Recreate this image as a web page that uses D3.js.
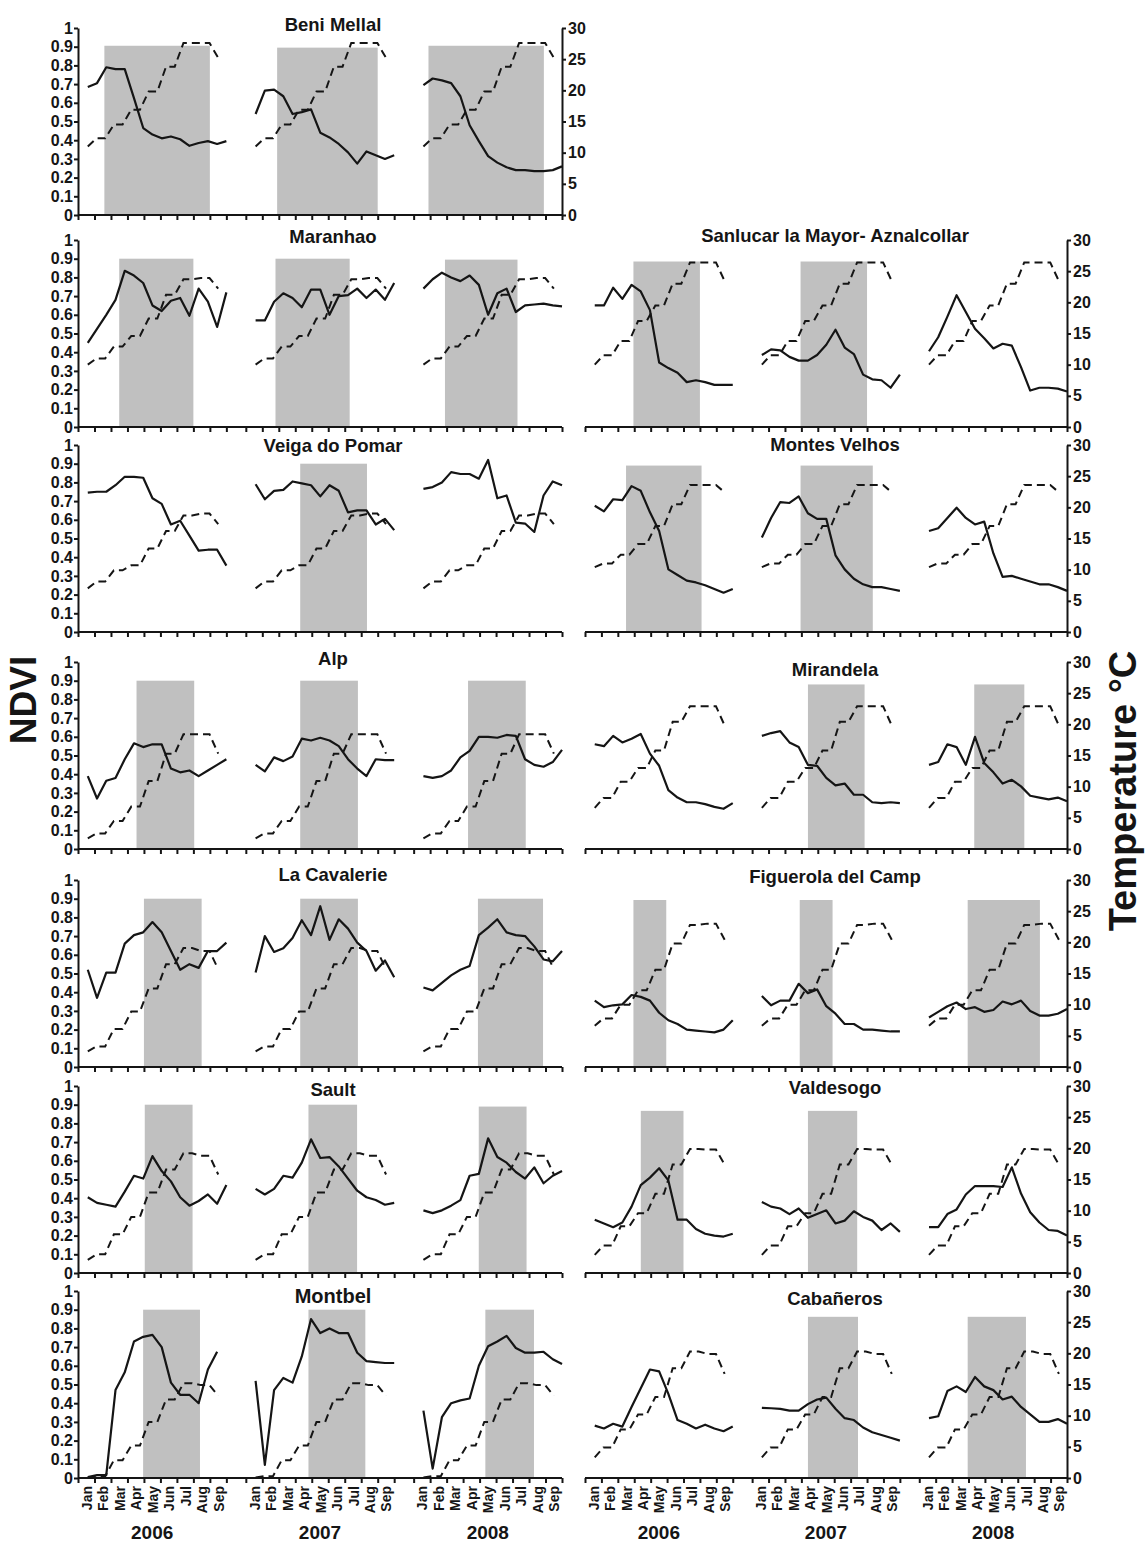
<!DOCTYPE html>
<html>
<head>
<meta charset="utf-8">
<script src="https://cdn.jsdelivr.net/npm/d3@7"></script>
<style>
  html, body { margin: 0; padding: 0; background: #ffffff; }
  svg { display: block; }
  text { font-family: "Liberation Sans", Arial, Helvetica, sans-serif; font-weight: bold; fill: #151515; }
</style>
</head>
<body>
<svg id="chart" width="1146" height="1542"></svg>
<script>
// ---------- axis categories and tick labels ----------
const years = ["2006", "2007", "2008"];
const monthNames = ["Jan", "Feb", "Mar", "Apr", "May", "Jun", "Jul", "Aug", "Sep"];
const ndviTicks = [0, 0.1, 0.2, 0.3, 0.4, 0.5, 0.6, 0.7, 0.8, 0.9, 1];
const ndviTickLabels = ["0", "0.1", "0.2", "0.3", "0.4", "0.5", "0.6", "0.7", "0.8", "0.9", "1"];
const tempTicks = [0, 5, 10, 15, 20, 25, 30];

// day of year of each NDVI composite and of each temperature value (Jan–Sep)
const ndviDays = [18, 35, 52, 69, 86, 103, 120, 137, 154, 171, 188, 205, 222, 239, 256, 273];
const tempDays = [18, 34, 50, 66, 82, 98, 114, 130, 146, 162, 178, 194, 210, 226, 242, 258];
const daysPerMonth = 30.33;

// ---------- site names ----------
const siteNames = [
  "Beni Mellal", "Maranhao", "Veiga do Pomar", "Alp", "La Cavalerie", "Sault", "Montbel",
  "Sanlucar la Mayor- Aznalcollar", "Montes Velhos", "Mirandela", "Figuerola del Camp", "Valdesogo", "Cabañeros"
];

// ---------- mean temperature (°C), same seasonal course each year ----------
const tempBeniMellal = [11, 12.3, 12.3, 14.5, 14.5, 16.9, 16.9, 19.8, 19.8, 23.8, 23.8, 27.6, 27.6, 27.6, 27.6, 25.2];
const tempMaranhao   = [10, 11, 11, 12.9, 12.9, 14.6, 14.6, 17.4, 17.4, 21.2, 21.2, 23.7, 23.7, 23.9, 23.9, 22.2];
const tempVeiga      = [7, 8.1, 8.1, 9.9, 9.9, 10.7, 10.7, 13.4, 13.4, 16.2, 16.2, 18.7, 18.7, 19, 19, 17.3];
const tempAlp        = [1.7, 2.5, 2.5, 4.5, 4.5, 6.8, 6.8, 10.9, 10.9, 15.3, 15.3, 18.4, 18.4, 18.4, 18.4, 15.3];
const tempCavalerie  = [2.5, 3.3, 3.3, 6.1, 6.1, 8.9, 8.9, 12.6, 12.6, 16.5, 16.5, 19.1, 19.1, 18.6, 18.6, 15.7];
const tempSault      = [2.1, 3, 3, 6.2, 6.2, 9, 9, 12.9, 12.9, 16.6, 16.6, 19.2, 19.2, 18.8, 18.8, 15.8];
const tempMontbel    = [0.1, 0.3, 0.3, 2.85, 2.85, 5.2, 5.2, 9, 9, 12.6, 12.6, 15.2, 15.2, 14.9, 14.9, 13.2];
const tempSanlucar   = [10, 11.5, 11.5, 13.8, 13.8, 17, 17, 19.5, 19.5, 23, 23, 26.4, 26.4, 26.4, 26.4, 23.4];
const tempMontes     = [10.4, 11, 11, 12.4, 12.4, 14.1, 14.1, 17, 17, 20.5, 20.5, 23.6, 23.6, 23.6, 23.6, 22.4];
const tempMirandela  = [6.6, 8.2, 8.2, 10.8, 10.8, 13, 13, 15.8, 15.8, 20.4, 20.4, 22.9, 22.9, 22.9, 22.9, 19.8];
const tempFiguerola  = [6.6, 7.8, 7.8, 10, 10, 12.3, 12.3, 15.6, 15.6, 19.8, 19.8, 22.8, 22.8, 23, 23, 20.4];
const tempValdesogo  = [2.9, 4.4, 4.4, 7.5, 7.5, 9.6, 9.6, 12.7, 12.7, 17.4, 17.4, 19.9, 19.9, 19.8, 19.8, 17.4];
const tempCabaneros  = [3.3, 4.9, 4.9, 7.8, 7.8, 10.2, 10.2, 13, 13, 17.6, 17.6, 20.3, 20.3, 19.9, 19.9, 16.7];

// ---------- NDVI, one series per year (2006, 2007, 2008) ----------
const ndviBeniMellal = [
  [0.685, 0.705, 0.79, 0.78, 0.78, 0.625, 0.465, 0.43, 0.41, 0.42, 0.405, 0.37, 0.385, 0.395, 0.38, 0.395],
  [0.54, 0.665, 0.67, 0.635, 0.54, 0.55, 0.565, 0.44, 0.415, 0.38, 0.335, 0.275, 0.34, 0.32, 0.3, 0.32],
  [0.695, 0.73, 0.72, 0.705, 0.635, 0.48, 0.395, 0.315, 0.28, 0.255, 0.24, 0.24, 0.235, 0.235, 0.24, 0.26]
];
const ndviMaranhao = [
  [0.45, 0.525, 0.6, 0.68, 0.835, 0.81, 0.77, 0.65, 0.62, 0.675, 0.69, 0.595, 0.74, 0.67, 0.535, 0.72],
  [0.57, 0.57, 0.67, 0.715, 0.69, 0.64, 0.735, 0.735, 0.6, 0.7, 0.705, 0.74, 0.69, 0.735, 0.68, 0.77],
  [0.74, 0.79, 0.825, 0.8, 0.78, 0.81, 0.76, 0.6, 0.715, 0.74, 0.615, 0.65, 0.655, 0.66, 0.65, 0.645]
];
const ndviVeiga = [
  [0.745, 0.75, 0.75, 0.785, 0.83, 0.83, 0.825, 0.715, 0.685, 0.575, 0.595, 0.515, 0.435, 0.44, 0.44, 0.355],
  [0.79, 0.71, 0.755, 0.76, 0.805, 0.795, 0.785, 0.725, 0.785, 0.755, 0.64, 0.65, 0.65, 0.575, 0.605, 0.545],
  [0.765, 0.775, 0.8, 0.855, 0.845, 0.845, 0.82, 0.92, 0.715, 0.73, 0.585, 0.58, 0.535, 0.73, 0.805, 0.785]
];
const ndviAlp = [
  [0.39, 0.27, 0.365, 0.38, 0.48, 0.565, 0.545, 0.56, 0.56, 0.43, 0.41, 0.42, 0.39, 0.42, 0.45, 0.48],
  [0.45, 0.415, 0.49, 0.47, 0.495, 0.59, 0.58, 0.595, 0.58, 0.55, 0.48, 0.43, 0.39, 0.48, 0.475, 0.475],
  [0.39, 0.38, 0.39, 0.42, 0.49, 0.525, 0.6, 0.6, 0.595, 0.61, 0.605, 0.48, 0.45, 0.44, 0.465, 0.53]
];
const ndviCavalerie = [
  [0.52, 0.37, 0.505, 0.505, 0.66, 0.705, 0.72, 0.775, 0.72, 0.62, 0.52, 0.55, 0.53, 0.62, 0.62, 0.665],
  [0.505, 0.7, 0.615, 0.635, 0.69, 0.785, 0.705, 0.86, 0.68, 0.79, 0.74, 0.665, 0.62, 0.515, 0.57, 0.48],
  [0.425, 0.41, 0.45, 0.49, 0.52, 0.54, 0.705, 0.745, 0.79, 0.72, 0.705, 0.7, 0.645, 0.575, 0.565, 0.62]
];
const ndviSault = [
  [0.405, 0.375, 0.365, 0.355, 0.435, 0.52, 0.505, 0.625, 0.545, 0.49, 0.405, 0.36, 0.385, 0.42, 0.37, 0.47],
  [0.45, 0.42, 0.45, 0.52, 0.51, 0.59, 0.715, 0.615, 0.62, 0.57, 0.505, 0.44, 0.405, 0.39, 0.365, 0.375],
  [0.335, 0.32, 0.335, 0.36, 0.39, 0.52, 0.53, 0.72, 0.62, 0.59, 0.54, 0.505, 0.565, 0.48, 0.52, 0.545]
];
const ndviMontbel = [
  [0.005, 0.015, 0.015, 0.47, 0.565, 0.73, 0.755, 0.765, 0.7, 0.51, 0.445, 0.445, 0.4, 0.58, 0.675],
  [0.52, 0.07, 0.47, 0.535, 0.51, 0.65, 0.85, 0.775, 0.8, 0.775, 0.775, 0.67, 0.625, 0.62, 0.615, 0.615],
  [0.36, 0.05, 0.325, 0.4, 0.415, 0.425, 0.6, 0.705, 0.73, 0.76, 0.695, 0.67, 0.67, 0.675, 0.635, 0.61]
];
const ndviSanlucar = [
  [0.65, 0.65, 0.745, 0.685, 0.76, 0.725, 0.625, 0.345, 0.315, 0.29, 0.24, 0.25, 0.24, 0.225, 0.225, 0.225],
  [0.385, 0.415, 0.41, 0.375, 0.355, 0.355, 0.385, 0.44, 0.52, 0.425, 0.39, 0.28, 0.255, 0.25, 0.21, 0.28],
  [0.405, 0.48, 0.59, 0.705, 0.615, 0.525, 0.475, 0.42, 0.445, 0.435, 0.32, 0.195, 0.21, 0.21, 0.205, 0.19]
];
const ndviMontes = [
  [0.675, 0.645, 0.71, 0.705, 0.78, 0.755, 0.64, 0.54, 0.335, 0.305, 0.275, 0.265, 0.25, 0.23, 0.21, 0.23],
  [0.505, 0.61, 0.695, 0.69, 0.725, 0.635, 0.605, 0.605, 0.41, 0.335, 0.285, 0.255, 0.24, 0.24, 0.23, 0.22],
  [0.54, 0.555, 0.61, 0.665, 0.61, 0.575, 0.59, 0.42, 0.295, 0.3, 0.285, 0.27, 0.255, 0.255, 0.24, 0.22]
];
const ndviMirandela = [
  [0.56, 0.55, 0.605, 0.57, 0.59, 0.615, 0.51, 0.445, 0.315, 0.275, 0.25, 0.25, 0.24, 0.225, 0.215, 0.245],
  [0.605, 0.62, 0.63, 0.57, 0.545, 0.45, 0.445, 0.38, 0.34, 0.35, 0.29, 0.29, 0.25, 0.245, 0.25, 0.245],
  [0.45, 0.465, 0.56, 0.545, 0.45, 0.6, 0.46, 0.41, 0.35, 0.37, 0.335, 0.285, 0.275, 0.265, 0.275, 0.255]
];
const ndviFiguerola = [
  [0.355, 0.32, 0.33, 0.335, 0.385, 0.375, 0.355, 0.29, 0.25, 0.23, 0.2, 0.195, 0.19, 0.185, 0.2, 0.25],
  [0.38, 0.33, 0.355, 0.355, 0.445, 0.395, 0.415, 0.325, 0.285, 0.23, 0.23, 0.2, 0.2, 0.195, 0.19, 0.19],
  [0.265, 0.295, 0.325, 0.345, 0.31, 0.32, 0.295, 0.305, 0.35, 0.335, 0.355, 0.3, 0.275, 0.275, 0.285, 0.31]
];
const ndviValdesogo = [
  [0.285, 0.265, 0.245, 0.27, 0.355, 0.47, 0.51, 0.56, 0.495, 0.285, 0.285, 0.235, 0.21, 0.2, 0.195, 0.21],
  [0.38, 0.355, 0.345, 0.315, 0.345, 0.295, 0.315, 0.335, 0.265, 0.28, 0.33, 0.3, 0.28, 0.23, 0.265, 0.22],
  [0.245, 0.245, 0.315, 0.34, 0.42, 0.465, 0.465, 0.465, 0.46, 0.565, 0.425, 0.325, 0.27, 0.23, 0.225, 0.2]
];
const ndviCabaneros = [
  [0.28, 0.265, 0.29, 0.275, 0.38, 0.48, 0.58, 0.57, 0.45, 0.31, 0.29, 0.265, 0.285, 0.265, 0.25, 0.275],
  [0.375, 0.373, 0.37, 0.36, 0.36, 0.395, 0.42, 0.43, 0.37, 0.32, 0.31, 0.27, 0.245, 0.23, 0.215, 0.2],
  [0.32, 0.33, 0.465, 0.49, 0.46, 0.54, 0.49, 0.47, 0.42, 0.435, 0.38, 0.34, 0.3, 0.3, 0.315, 0.29]
];

// ---------- growing season per year: [start month, end month, bar height in NDVI] ----------
const seasonBeniMellal = [[1.6, 8.0, 0.905], [1.9, 8.0, 0.895], [0.9, 7.9, 0.905]];
const seasonMaranhao   = [[2.5, 7.0, 0.9], [1.8, 6.3, 0.9], [1.9, 6.3, 0.895]];
const seasonVeiga      = [null, [3.3, 7.35, 0.9], null];
const seasonAlp        = [[3.55, 7.05, 0.9], [3.3, 6.8, 0.9], [3.3, 6.8, 0.9]];
const seasonCavalerie  = [[4.0, 7.5, 0.9], [3.3, 6.8, 0.9], [3.9, 7.85, 0.9]];
const seasonSault      = [[4.05, 6.95, 0.9], [3.8, 6.75, 0.9], [3.95, 6.85, 0.89]];
const seasonMontbel    = [[3.95, 7.4, 0.9], [3.8, 7.25, 0.9], [4.35, 7.3, 0.9]];
const seasonSanlucar   = [[2.95, 7.0, 0.885], [2.95, 7.0, 0.885], null];
const seasonMontes     = [[2.5, 7.1, 0.89], [2.95, 7.35, 0.89], null];
const seasonMirandela  = [null, [3.4, 6.85, 0.88], [3.35, 6.4, 0.88]];
const seasonFiguerola  = [[2.95, 4.95, 0.893], [2.9, 4.9, 0.893], [2.95, 7.35, 0.893]];
const seasonValdesogo  = [[3.4, 6.0, 0.867], [3.4, 6.4, 0.867], null];
const seasonCabaneros  = [null, [3.4, 6.45, 0.862], [2.95, 6.5, 0.862]];

// ---------- panel table ----------
const siteTemps = [tempBeniMellal, tempMaranhao, tempVeiga, tempAlp, tempCavalerie, tempSault, tempMontbel,
                   tempSanlucar, tempMontes, tempMirandela, tempFiguerola, tempValdesogo, tempCabaneros];
const siteNdvi = [ndviBeniMellal, ndviMaranhao, ndviVeiga, ndviAlp, ndviCavalerie, ndviSault, ndviMontbel,
                  ndviSanlucar, ndviMontes, ndviMirandela, ndviFiguerola, ndviValdesogo, ndviCabaneros];
const siteSeasons = [seasonBeniMellal, seasonMaranhao, seasonVeiga, seasonAlp, seasonCavalerie, seasonSault, seasonMontbel,
                     seasonSanlucar, seasonMontes, seasonMirandela, seasonFiguerola, seasonValdesogo, seasonCabaneros];

// ---------- layout: grid cell [column, row] and title baseline offset of each site ----------
const siteCells = [[0,0],[0,1],[0,2],[0,3],[0,4],[0,5],[0,6],[1,1],[1,2],[1,3],[1,4],[1,5],[1,6]];
const titleOffsets = [3, 3, 7, 3, 1, 10, 12, 2, 6, 14, 3, 8, 14];

const panels = siteNames.map((name, i) => ({
  name, temp: siteTemps[i], ndvi: siteNdvi[i], season: siteSeasons[i],
  col: siteCells[i][0], row: siteCells[i][1], titleDy: titleOffsets[i]
}));

const svg = d3.select("#chart");
const colRanges = [[78, 562], [585, 1067]];
const rowTops = [28, 240, 445, 662, 880, 1086, 1291];
const rowH = 187;
const lastRow = 6;
const ink = "#151515";
const shade = "#c0c0c0";

function styleAxis(g, size) {
  g.attr("font-size", size).attr("font-family", null);
  g.selectAll("line, path").attr("stroke", ink).attr("stroke-width", 2);
  g.selectAll("text").attr("fill", ink);
}

panels.forEach(p => {
  const top = rowTops[p.row];
  const bottom = top + rowH;
  const [x0, x1] = colRanges[p.col];
  const yN = d3.scaleLinear().domain([0, 1]).range([bottom, top]);
  const yT = d3.scaleLinear().domain([0, 30]).range([bottom, top]);
  const band = d3.scaleBand().domain(years).range([x0, x1]).paddingInner(0.116).paddingOuter(0);
  const g = svg.append("g").attr("class", "panel");
  const marks = g.append("g");
  const axes = g.append("g");

  years.forEach((yr, k) => {
    const xm = d3.scaleLinear().domain([0, 9]).range([band(yr), band(yr) + band.bandwidth()]);

    // growing-season bar
    const s = p.season[k];
    if (s) {
      marks.append("rect")
        .attr("x", xm(s[0])).attr("width", xm(s[1]) - xm(s[0]))
        .attr("y", yN(s[2])).attr("height", yN(0) - yN(s[2]))
        .attr("fill", shade);
    }

    // temperature (dashed, right scale)
    const tempLine = d3.line()
      .x((d, i) => xm(tempDays[i] / daysPerMonth))
      .y(d => yT(d));
    marks.append("path").attr("d", tempLine(p.temp))
      .attr("fill", "none").attr("stroke", ink).attr("stroke-width", 2)
      .attr("stroke-dasharray", "8,5");

    // NDVI (solid, left scale)
    const ndviLine = d3.line()
      .x((d, i) => xm(ndviDays[i] / daysPerMonth))
      .y(d => yN(d));
    marks.append("path").attr("d", ndviLine(p.ndvi[k]))
      .attr("fill", "none").attr("stroke", ink).attr("stroke-width", 2.2)
      .attr("stroke-linejoin", "round");

    // month boundary ticks
    const tickAxis = axes.append("g").attr("transform", `translate(0,${bottom})`)
      .call(d3.axisBottom(xm).tickValues(d3.range(10)).tickSize(5).tickFormat(""));
    tickAxis.select(".domain").remove();
    styleAxis(tickAxis, 13);

    if (p.row === lastRow) {
      const lab = axes.append("g").attr("transform", `translate(0,${bottom})`)
        .call(d3.axisBottom(xm).tickValues(monthNames.map((m, i) => i + 0.5))
          .tickSize(0).tickFormat((d, i) => monthNames[i]));
      lab.select(".domain").remove();
      styleAxis(lab, 14);
      lab.selectAll("text")
        .attr("transform", "rotate(-90)")
        .attr("x", -8).attr("y", 0).attr("dy", "0.36em")
        .attr("text-anchor", "end");
      axes.append("text")
        .attr("x", band(yr) + band.bandwidth() / 2).attr("y", 1539)
        .attr("text-anchor", "middle").attr("font-size", 19)
        .text(yr);
    }
  });

  // continuous baseline of the row
  axes.append("line").attr("x1", x0).attr("x2", x1).attr("y1", bottom).attr("y2", bottom)
    .attr("stroke", ink).attr("stroke-width", 2);

  if (p.col === 0) {
    const ax = axes.append("g").attr("transform", `translate(${x0},0)`)
      .call(d3.axisLeft(yN).tickValues(ndviTicks).tickSize(4).tickSizeOuter(0).tickPadding(1)
        .tickFormat((d, i) => ndviTickLabels[i]));
    styleAxis(ax, 16);
  }
  if (p.col === 1 || p.row === 0) {
    const ax = axes.append("g").attr("transform", `translate(${x1},0)`)
      .call(d3.axisRight(yT).tickValues(tempTicks).tickSize(4).tickSizeOuter(0).tickPadding(2));
    styleAxis(ax, 16);
  }

  g.append("text")
    .attr("x", p.col === 0 ? 333 : 835).attr("y", top + p.titleDy)
    .attr("text-anchor", "middle").attr("font-size", p.name === "Montbel" ? 20 : 18.5)
    .text(p.name);
});

// axis titles
svg.append("text").attr("transform", "translate(36,700) rotate(-90)")
  .attr("text-anchor", "middle").attr("font-size", 37).text("NDVI");
svg.append("text").attr("transform", "translate(1136,791) rotate(-90)")
  .attr("text-anchor", "middle").attr("font-size", 38).text("Temperature °C");
</script>
</body>
</html>
